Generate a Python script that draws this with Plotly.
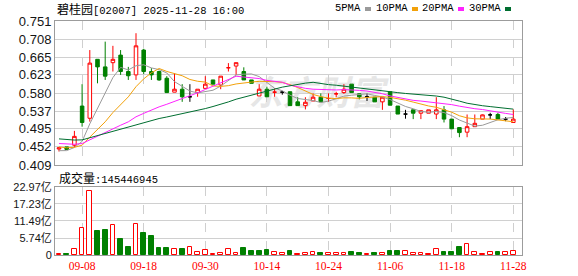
import plotly.graph_objects as go

# ---------------- data ----------------
dates = ["09-03", "09-04", "09-05", "09-08", "09-09", "09-10", "09-11", "09-12",
         "09-15", "09-16", "09-17", "09-18", "09-19", "09-22", "09-23", "09-24",
         "09-25", "09-26", "09-29", "09-30", "10-02", "10-03", "10-06", "10-08",
         "10-09", "10-10", "10-13", "10-14", "10-15", "10-16", "10-17", "10-20",
         "10-21", "10-22", "10-23", "10-24", "10-27", "10-28", "10-30", "10-31",
         "11-03", "11-04", "11-05", "11-06", "11-07", "11-10", "11-11", "11-12",
         "11-13", "11-14", "11-17", "11-18", "11-19", "11-20", "11-21", "11-24",
         "11-25", "11-26", "11-27", "11-28"]

opens = [0.447, 0.452, 0.456, 0.549, 0.520, 0.660, 0.642, 0.652, 0.670, 0.631,
         0.623, 0.682, 0.631, 0.631, 0.615, 0.582, 0.589, 0.571, 0.581, 0.591,
         0.611, 0.599, 0.640, 0.644, 0.631, 0.611, 0.573, 0.589, 0.582, 0.582,
         0.583, 0.559, 0.550, 0.561, 0.570, 0.567, 0.578, 0.581, 0.601, 0.578,
         0.571, 0.570, 0.559, 0.583, 0.549, 0.530, 0.540, 0.532, 0.532, 0.530,
         0.540, 0.518, 0.498, 0.487, 0.500, 0.518, 0.528, 0.529, 0.518, 0.510]
highs = [0.450, 0.452, 0.490, 0.601, 0.682, 0.660, 0.702, 0.692, 0.682, 0.642,
         0.722, 0.685, 0.639, 0.633, 0.620, 0.627, 0.601, 0.601, 0.589, 0.620,
         0.611, 0.620, 0.651, 0.652, 0.641, 0.611, 0.601, 0.595, 0.591, 0.585,
         0.583, 0.570, 0.570, 0.579, 0.579, 0.579, 0.583, 0.601, 0.601, 0.578,
         0.579, 0.570, 0.570, 0.583, 0.549, 0.540, 0.540, 0.538, 0.540, 0.570,
         0.549, 0.518, 0.498, 0.529, 0.529, 0.529, 0.533, 0.533, 0.523, 0.541]
lows = [0.441, 0.446, 0.452, 0.500, 0.512, 0.603, 0.611, 0.631, 0.623, 0.611,
        0.611, 0.625, 0.611, 0.609, 0.580, 0.582, 0.559, 0.559, 0.571, 0.591,
        0.601, 0.589, 0.631, 0.623, 0.611, 0.603, 0.573, 0.571, 0.571, 0.576,
        0.550, 0.550, 0.541, 0.561, 0.559, 0.559, 0.570, 0.578, 0.581, 0.565,
        0.561, 0.559, 0.540, 0.551, 0.532, 0.519, 0.518, 0.518, 0.532, 0.518,
        0.510, 0.495, 0.475, 0.475, 0.500, 0.518, 0.518, 0.518, 0.513, 0.510]
closes = [0.450, 0.446, 0.477, 0.510, 0.651, 0.642, 0.620, 0.660, 0.631, 0.621,
          0.692, 0.631, 0.623, 0.611, 0.581, 0.589, 0.571, 0.571, 0.589, 0.601,
          0.601, 0.620, 0.640, 0.652, 0.611, 0.603, 0.589, 0.571, 0.582, 0.582,
          0.550, 0.550, 0.558, 0.570, 0.559, 0.567, 0.578, 0.589, 0.581, 0.571,
          0.571, 0.559, 0.570, 0.551, 0.530, 0.530, 0.532, 0.538, 0.540, 0.540,
          0.518, 0.495, 0.486, 0.500, 0.508, 0.528, 0.528, 0.518, 0.518, 0.518]
# volume in 亿 (1e8) shares
volumes = [0.34, 0.34, 1.91, 9.01, 21.62, 8.11, 8.44, 10.02, 5.40, 2.70,
           10.36, 7.43, 6.42, 2.36, 2.36, 1.91, 2.03, 2.59, 0.90, 1.58,
           0.34, 0.56, 1.91, 0.56, 2.36, 1.35, 1.35, 1.58, 0.90, 0.56,
           1.24, 0.34, 0.79, 1.13, 0.68, 0.79, 0.56, 0.79, 0.90, 0.68,
           0.34, 0.68, 0.79, 1.35, 1.35, 1.24, 0.68, 0.68, 0.34, 1.91,
           1.01, 1.01, 2.70, 3.60, 1.13, 0.34, 1.13, 0.90, 0.90, 1.45]
# estimated closes of the 29 sessions before the window (feed the moving averages)
hist_closes = [0.505, 0.500, 0.498, 0.495, 0.493, 0.490, 0.490, 0.488, 0.486, 0.485,
               0.480, 0.478, 0.475, 0.472, 0.470, 0.466, 0.465, 0.462, 0.460, 0.452,
               0.468, 0.465, 0.460, 0.458, 0.454, 0.445, 0.440, 0.438, 0.442]

tick_dates = ["09-08", "09-18", "09-30", "10-14", "10-24", "11-06", "11-18", "11-28"]
price_ticks = ["0.409", "0.452", "0.495", "0.537", "0.580", "0.623", "0.665", "0.708", "0.751"]
vol_tick_vals = [0, 5.74, 11.49, 17.23, 22.97]
vol_tick_text = ["0", "5.74亿", "11.49亿", "17.23亿", "22.97亿"]
ma_periods = [5, 10, 20, 30]
ma_names = ["5PMA", "10PMA", "20PMA", "30PMA"]
ma_colors = ["#9a9a9a", "#f2a10a", "#ff22ff", "#006e30"]
title_name = "碧桂园"
title_rest = "[02007] 2025-11-28 16:00"
last_volume = "145446945"

RED = "#ff0000"
GREEN = "#008000"

# ---------------- derived ----------------
all_closes = hist_closes + closes
off = len(hist_closes)
prev_close = [all_closes[off + i - 1] for i in range(len(closes))]


def ma(n):
    return [sum(all_closes[off + i - n + 1: off + i + 1]) / n for i in range(len(closes))]


fig = go.Figure()

# watermark (behind data)
fig.add_shape(type="rect", xref="paper", yref="paper", x0=0.36, x1=0.76, y0=0.61, y1=0.75,
              line=dict(width=0), fillcolor="rgba(0,0,0,0)", layer="below",
              label=dict(text="<b><i>东方财富</i></b>", textposition="middle center",
                         font=dict(family="Noto Sans CJK SC", size=34, color="#e6e6e6")))

# moving averages
for n, name, col in zip(ma_periods, ma_names, ma_colors):
    fig.add_trace(go.Scatter(x=dates, y=ma(n), mode="lines", name=name,
                             line=dict(color=col, width=1), xaxis="x", yaxis="y",
                             hoverinfo="skip"))

# candles
idx_body = [i for i in range(len(dates)) if opens[i] != closes[i]]
idx_doji_up = [i for i in range(len(dates)) if opens[i] == closes[i] and closes[i] > prev_close[i]]
idx_doji_flat = [i for i in range(len(dates)) if opens[i] == closes[i] and closes[i] <= prev_close[i]]


def sub(arr, idx):
    return [arr[i] for i in idx]


def candle(idx, inc_line, inc_fill, dec_line, dec_fill):
    return go.Candlestick(
        x=sub(dates, idx), open=sub(opens, idx), high=sub(highs, idx),
        low=sub(lows, idx), close=sub(closes, idx), xaxis="x", yaxis="y",
        increasing=dict(line=dict(color=inc_line, width=1), fillcolor=inc_fill),
        decreasing=dict(line=dict(color=dec_line, width=1), fillcolor=dec_fill),
        whiskerwidth=0, hoverinfo="skip")


fig.add_trace(candle(idx_body, RED, "#ffffff", GREEN, GREEN))
fig.add_trace(candle(idx_doji_up, RED, RED, RED, RED))
fig.add_trace(candle(idx_doji_flat, "#000000", "#000000", "#000000", "#000000"))

# volume bars: colour by change vs previous close
vol_up = [closes[i] >= prev_close[i] for i in range(len(closes))]
fig.add_trace(go.Bar(
    x=dates, y=volumes, xaxis="x2", yaxis="y2", width=0.62,
    marker=dict(color=["#ffffff" if u else GREEN for u in vol_up],
                line=dict(color=[RED if u else GREEN for u in vol_up], width=1)),
    hoverinfo="skip"))

# ---------------- layout ----------------
L, R, T, B = 55, 56, 21, 21
W, H = 578, 276
plot_h = H - T - B
main_bottom_px = 165
vol_top_px = 187


def py(px_from_top):
    return (H - B - px_from_top) / plot_h


def px(x_px):
    return (x_px - L) / (W - L - R)


axis_common = dict(showline=True, mirror=True, linecolor="#9c9c9c", linewidth=1,
                   zeroline=False, fixedrange=True, automargin=False)
xcommon = dict(axis_common, type="category", categoryorder="array", categoryarray=dates,
               range=[-0.52, 60.13], tickvals=tick_dates, ticktext=tick_dates,
               showgrid=True, gridcolor="#cfcfcf", griddash="dash", gridwidth=1, ticks="")

fig.update_layout(
    width=W, height=H, margin=dict(l=L, r=R, t=T, b=B, autoexpand=False),
    paper_bgcolor="white", plot_bgcolor="white", showlegend=False,
    bargap=0, boxgap=0.34,
    xaxis=dict(xcommon, domain=[0, 1], anchor="y", showticklabels=False,
               rangeslider=dict(visible=False)),
    xaxis2=dict(xcommon, domain=[0, 1], anchor="y2", matches="x", showticklabels=True,
                tickfont=dict(family="Liberation Serif", size=11.5, color=RED)),
    yaxis=dict(axis_common, domain=[py(main_bottom_px), 1], range=[0.409, 0.751],
               tickvals=[float(t) for t in price_ticks], ticktext=price_ticks,
               showgrid=True, gridcolor="#d0d0d0", gridwidth=1, ticks="",
               tickfont=dict(family="Liberation Sans", size=13, color="#151515")),
    yaxis2=dict(axis_common, domain=[0, py(vol_top_px)], range=[0, 22.97],
                tickvals=vol_tick_vals, ticktext=vol_tick_text,
                showgrid=True, gridcolor="#d0d0d0", gridwidth=1, ticks="",
                tickfont=dict(family="Liberation Sans Narrow, Liberation Sans, Noto Sans CJK SC",
                              size=11, color="#151515")),
)

cjk = "font-family:'Noto Sans CJK SC';font-size:12px"

# title
fig.add_annotation(xref="paper", yref="paper", x=0, y=py(8.5), xanchor="left", yanchor="middle",
                   showarrow=False,
                   text=f"<span style=\"{cjk}\">{title_name}</span>{title_rest}",
                   font=dict(family="Liberation Mono", size=10.5, color="#000000"))

# legend (text + coloured squares)
legend_right_px = [363, 410, 456, 503]
for name, col, xr in zip(ma_names, ma_colors, legend_right_px):
    fig.add_annotation(xref="paper", yref="paper", x=px(xr), y=py(8.5), xanchor="right",
                       yanchor="middle", showarrow=False, text=name,
                       font=dict(family="Liberation Mono", size=10.5, color="#000000"))
    fig.add_shape(type="rect", xref="paper", yref="paper", x0=px(xr + 2), x1=px(xr + 8),
                  y0=py(11), y1=py(7), fillcolor=col, line=dict(width=0))

# volume caption
fig.add_annotation(xref="paper", yref="paper", x=px(57), y=py(177.5), xanchor="left",
                   yanchor="middle", showarrow=False,
                   text=f"<span style=\"{cjk}\">成交量</span>:{last_volume}",
                   font=dict(family="Liberation Mono", size=10.5, color="#000000"))

fig.write_html("out.html")
